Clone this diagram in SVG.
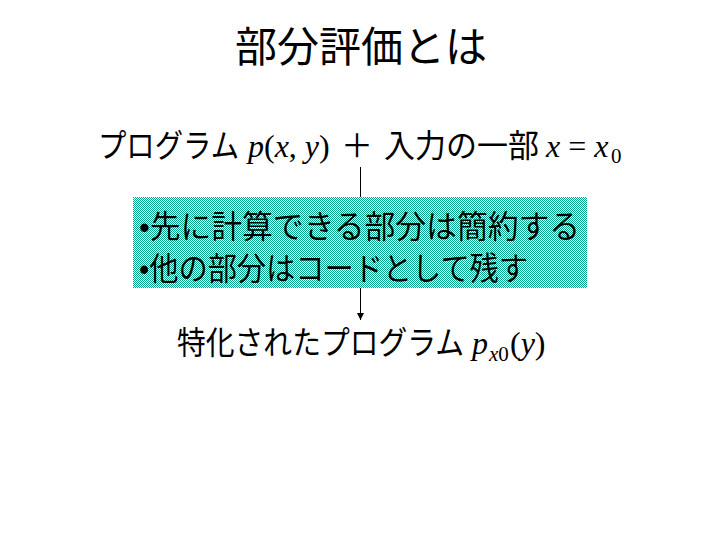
<svg xmlns="http://www.w3.org/2000/svg" width="720" height="540" viewBox="0 0 720 540">
  <defs>
    <pattern id="checker" patternUnits="userSpaceOnUse" x="0" y="0" width="2" height="2">
      <rect x="0" y="0" width="2" height="2" fill="#ffffff"/>
      <rect x="0" y="0" width="1" height="1" fill="#00a88c"/>
      <rect x="1" y="1" width="1" height="1" fill="#00a88c"/>
    </pattern>
    <marker id="arrow" markerWidth="8" markerHeight="8" refX="7" refY="4" orient="auto" markerUnits="userSpaceOnUse">
      <path d="M0,0.5 L7,4 L0,7.5 Z" fill="#000"/>
    </marker>
  </defs>
  <style>
    .jp { font-family: "Liberation Sans", "Noto Sans CJK JP", sans-serif; fill: #000; }
    .title { font-size: 42px; }
    .body { font-size: 32px; }
    .math { font-family: "Liberation Serif", serif; font-size: 32px; fill: #000; }
    .it { font-style: italic; }
    .sub { font-family: "Liberation Serif", serif; font-size: 21px; fill: #000; }
  </style>
  <rect width="720" height="540" fill="#ffffff"/>

  <g id="title">
    <text class="jp title" x="361" y="62" text-anchor="middle">部分評価とは</text>
  </g>

  <g id="input">
    <text class="jp body" x="98" y="157" textLength="141" lengthAdjust="spacingAndGlyphs">プログラム</text>
    <text class="math" x="248" y="157"><tspan class="it">p</tspan>(<tspan class="it">x</tspan>, <tspan class="it">y</tspan>)</text>
    <text class="jp body" x="357" y="157" text-anchor="middle">＋</text>
    <text class="jp body" x="384" y="157" textLength="155" lengthAdjust="spacingAndGlyphs">入力の一部</text>
    <text class="math it" x="546" y="157">x <tspan font-style="normal">=</tspan> x</text>
    <text class="sub" x="611" y="163">0</text>
  </g>

  <g id="process">
    <rect x="133" y="197" width="454" height="91" fill="url(#checker)" shape-rendering="crispEdges"/>
    <text class="jp body" x="139" y="238" textLength="441" lengthAdjust="spacingAndGlyphs">•先に計算できる部分は簡約する</text>
    <text class="jp body" x="139" y="280" textLength="389" lengthAdjust="spacingAndGlyphs">•他の部分はコードとして残す</text>
  </g>

  <g id="output">
    <text class="jp body" x="177" y="354" textLength="287" lengthAdjust="spacingAndGlyphs">特化されたプログラム</text>
    <text class="math it" x="472" y="354">p</text>
    <text class="sub" x="489" y="361"><tspan font-style="italic">x</tspan>0</text>
    <text class="math" x="510" y="354">(<tspan class="it">y</tspan>)</text>
  </g>

  <g id="connectors">
    <line x1="360.5" y1="167" x2="360.5" y2="197" stroke="#000" stroke-width="1"/>
    <line x1="360.5" y1="288" x2="360.5" y2="320" stroke="#000" stroke-width="1" marker-end="url(#arrow)"/>
  </g>
</svg>
